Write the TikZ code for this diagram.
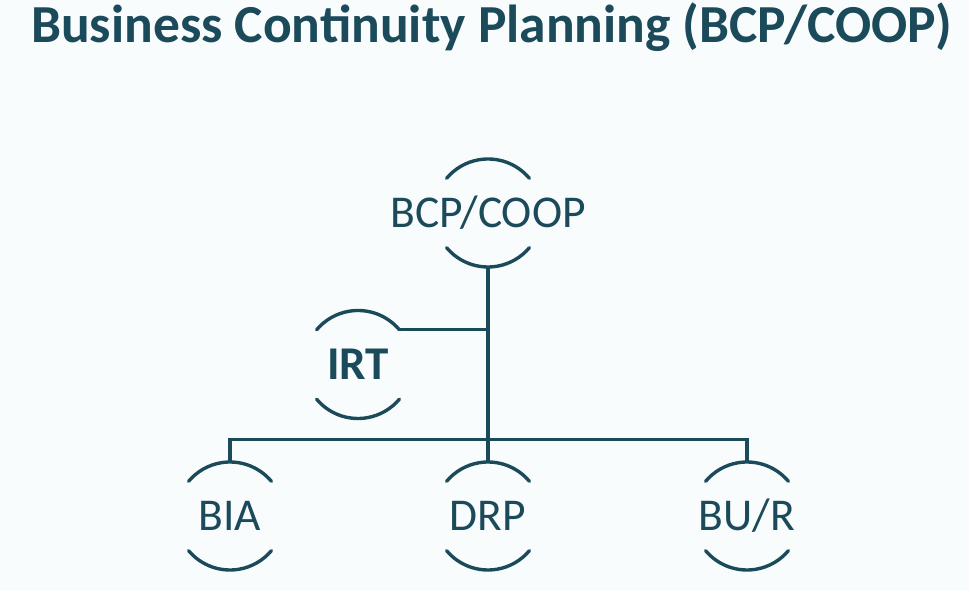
\documentclass[tikz,border=0pt]{standalone}
\usepackage{fontspec}
\setmainfont{Carlito}
\usetikzlibrary{positioning,calc}
\definecolor{bcpteal}{HTML}{1B4A5A}
\definecolor{slidebg}{HTML}{F9FCFD}
\tikzset{
  wire/.style  = { draw=bcpteal, line width=3.4pt },
  ring/.style  = { rectangle, inner sep=0pt, minimum width=108pt, minimum height=108pt,
    text=bcpteal, font=\fontsize{45.5}{50}\selectfont },
  ringb/.style = { ring, font=\fontsize{47}{52}\selectfont\bfseries },
  headline/.style = { anchor=base west, inner sep=0pt, text=bcpteal,
    font=\fontsize{53.5}{58}\selectfont\bfseries }
}
% two open arcs round a ring node
\newcommand{\ringarcs}[1]{%
  \draw[wire, line cap=round] ([shift={(40:54pt)}]#1.center) arc[start angle=40, end angle=140, radius=54pt];
  \draw[wire, line cap=round] ([shift={(220:54pt)}]#1.center) arc[start angle=220, end angle=320, radius=54pt];
}
\begin{document}
\begin{tikzpicture}[x=1pt,y=1pt]
    \fill[slidebg] (0,0) rectangle (969,591);
    \useasboundingbox (0,0) rectangle (969,591);
    \node[headline] (title) at (31,548) {Business Continuity Planning (BCP/COOP)};

    % (bcp (irt) (bia drp bur))
    \node[ring] (bcp) at (488,378) {BCP/COOP};
    \node[ringb] (irt) at (358,226.5) {IRT};
    \node[ring] (bia) at (230,75) {BIA};
    \node[ring] (drp) at (488,75) {DRP};
    \node[ring] (bur) at (747,75) {BU/R};

    \ringarcs{bcp}
    \ringarcs{irt}
    \ringarcs{bia}
    \ringarcs{drp}
    \ringarcs{bur}

    \coordinate (irtend) at ([shift={(40:54pt)}]irt.center);
    \path[wire] (bcp.south) -- (drp.north);
    \path[wire] (irtend) -- (irtend -| bcp.south);
    \path[wire] (bia.north) -- ++(0,22) -| (bur.north);
  \end{tikzpicture}
\end{document}
